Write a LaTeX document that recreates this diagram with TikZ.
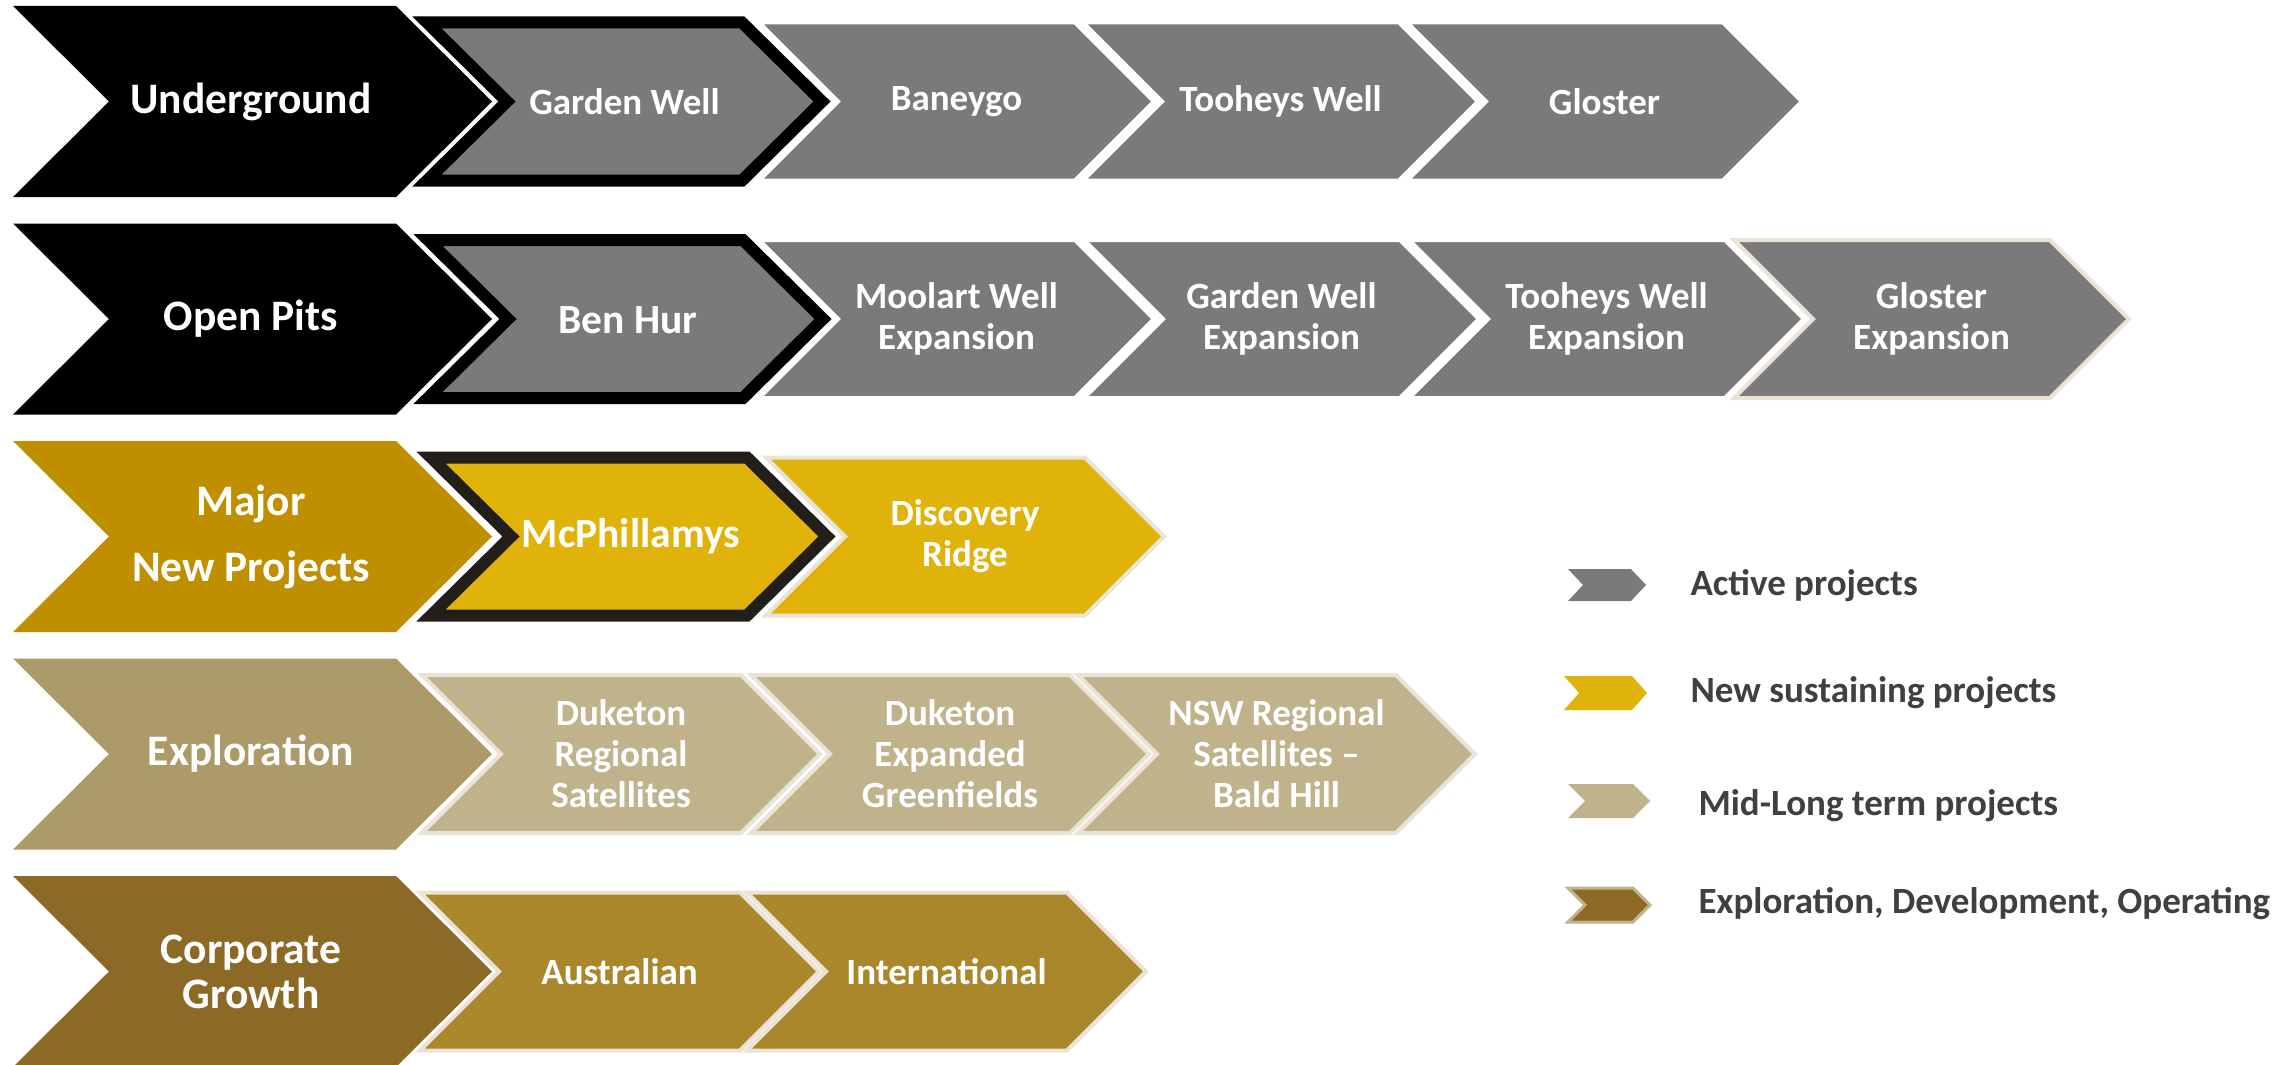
\documentclass[tikz,border=0pt]{standalone}
\usepackage{fontspec}
\setmainfont{Carlito}
\definecolor{actgray}{HTML}{7A7A7A}
\definecolor{headgold}{HTML}{C08F00}
\definecolor{newgold}{HTML}{E0B30B}
\definecolor{headtan}{HTML}{AD9A69}
\definecolor{midtan}{HTML}{C0B28B}
\definecolor{headbrown}{HTML}{8C6A26}
\definecolor{expbrown}{HTML}{AA872B}
\definecolor{legbrown}{HTML}{8C6A26}
\definecolor{beigeline}{HTML}{EAE3D6}
\definecolor{legtext}{HTML}{404040}
\definecolor{darkrim}{HTML}{221F1B}
\newcommand{\chev}[6]{%
  \path[#1] (#2,#3-#4) -- ++(#5,0) -- ++(#6,#4) -- ++(-#6,#4) -- ++(-#5,0) -- ++(#6,-#4) -- cycle;}
\tikzset{
  headtxt/.style={text=white, font=\bfseries\fontsize{43.5}{45}\selectfont, align=center},
  intxt/.style={text=white, font=\bfseries\fontsize{37}{41}\selectfont, align=center},
  bigtxt/.style={text=white, font=\bfseries\fontsize{41.5}{45}\selectfont, align=center},
  legtxt/.style={text=legtext, font=\bfseries\fontsize{37}{40}\selectfont, anchor=base west},
  wline/.style={draw=white, line width=4},
  bline/.style={draw=beigeline, line width=4},
  halo/.style={draw=white, line width=19},
  rim/.style={line width=12}
}
\begin{document}
\begin{tikzpicture}[x=1pt,y=-1pt]
\useasboundingbox (0,0) rectangle (2289,1065);
\fill[white] (0,0) rectangle (2289,1065);

% ---- row 1 : Underground
\chev{fill=black}{13}{101.5}{95.5}{383}{96}
\node[headtxt] (h1) at (251,101.5) {Underground};
\chev{halo}{427}{101.5}{79}{315}{80}
\chev{fill=actgray, draw=black, rim}{427}{101.5}{79}{315}{80}
\node[intxt] (gw) at (624.5,101.5) {Garden Well};
\chev{fill=actgray, wline}{759}{101.5}{79}{316}{79}
\node[intxt] (ban) at (956.5,101.5) {Baneygo};
\chev{fill=actgray, wline}{1083}{101.5}{79}{316}{79}
\node[intxt] (tw) at (1280.5,101.5) {Tooheys Well};
\chev{fill=actgray, wline}{1407}{101.5}{79}{316}{79}
\node[intxt] (gl) at (1604.5,101.5) {Gloster};

% ---- row 2 : Open Pits
\chev{fill=black}{13}{319}{95.5}{383}{96}
\node[headtxt] (h2) at (251,319) {Open Pits};
\chev{halo}{428}{319}{79}{315}{80}
\chev{fill=actgray, draw=black, rim}{428}{319}{79}{315}{80}
\node[bigtxt] (bh) at (628,320) {Ben Hur};
\chev{fill=actgray, wline}{759}{319}{79}{316}{79}
\node[intxt] (mwe) at (956.5,319) {Moolart Well\\Expansion};
\chev{fill=actgray, wline}{1084}{319}{79}{316}{79}
\node[intxt] (gwe) at (1281.5,319) {Garden Well\\Expansion};
\chev{fill=actgray, wline}{1409}{319}{79}{316}{79}
\node[intxt] (twe) at (1606.5,319) {Tooheys Well\\Expansion};
\chev{fill=actgray, bline}{1734}{319}{79}{316}{79}
\node[intxt] (ge) at (1931.5,319) {Gloster\\Expansion};

% ---- row 3 : Major New Projects
\chev{fill=headgold}{13}{536.5}{95.5}{383}{96}
\node[headtxt] (h3) at (251,536.5) {Major\\[21pt]New Projects};
\chev{halo}{431}{536.5}{79}{316}{80}
\chev{fill=newgold, draw=darkrim, rim}{431}{536.5}{79}{316}{80}
\node[bigtxt] (mcp) at (631,536.5) {McPhillamys};
\chev{fill=newgold, bline}{766}{536.5}{79}{319}{79}
\node[intxt] (dr) at (965,536.5) {Discovery\\Ridge};

% ---- row 4 : Exploration
\chev{fill=headtan}{13}{754}{95.5}{383}{96}
\node[headtxt] (h4) at (251,754) {Exploration};
\chev{fill=midtan, bline}{422}{754}{79}{319}{79}
\node[intxt] (drs) at (621,754) {Duketon\\Regional\\Satellites};
\chev{fill=midtan, bline}{751}{754}{79}{319}{79}
\node[intxt] (deg) at (950,754) {Duketon\\Expanded\\Greenfields};
\chev{fill=midtan, bline}{1078}{754}{79}{318}{79}
\node[intxt] (nsw) at (1276.5,754) {NSW Regional\\Satellites --\\Bald Hill};

% ---- row 5 : Corporate Growth
\chev{fill=headbrown}{13}{971.5}{95.5}{383}{96}
\node[headtxt] (h5) at (251,971.5) {Corporate\\Growth};
\chev{fill=expbrown, bline}{420}{971.5}{79}{320}{79}
\node[intxt] (aus) at (619.5,971.5) {Australian};
\chev{fill=expbrown, bline}{747}{971.5}{79}{320}{79}
\node[intxt] (intl) at (946.5,971.5) {International};

% ---- legend
\chev{fill=actgray}{1568}{585}{16}{63}{15}
\node[legtxt] (l1) at (1687,595) {Active projects};
\chev{fill=newgold}{1564}{693}{17}{68}{15}
\node[legtxt] (l2) at (1687,702) {New sustaining projects};
\chev{fill=midtan}{1568}{801}{17}{65}{17}
\node[legtxt] (l3) at (1695,815) {Mid-Long term projects};
\chev{fill=legbrown, draw=midtan, line width=3}{1568}{905}{17}{65}{17}
\node[legtxt] (l4) at (1695,913) {Exploration, Development, Operating};
\end{tikzpicture}
\end{document}
